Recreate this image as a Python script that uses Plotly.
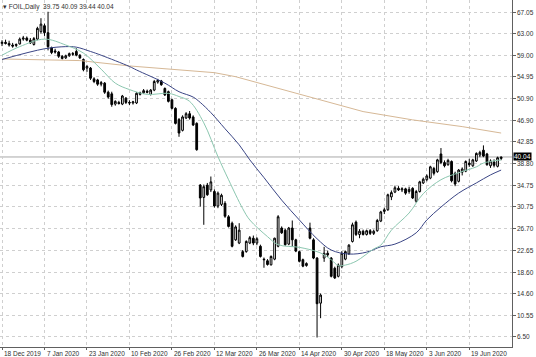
import plotly.graph_objects as go

# ---------------- data ----------------
opens = [61.2, 61.4, 61.2, 60.9, 60.8, 61.1, 62.0, 62.2, 61.8, 61.0, 62.0, 63.4, 64.5, 63.2, 60.4, 59.8, 59.6, 58.8, 58.5, 58.9,
         59.3, 59.7, 59.0, 58.2, 56.6, 56.6, 54.6, 54.4, 53.6, 53.8, 52.1, 51.8, 49.9, 50.2, 49.9, 51.0, 50.2, 50.1, 50.1, 51.7,
         52.0, 52.3, 51.7, 52.5, 54.0, 54.2, 52.8, 52.2, 50.7, 49.1, 47.0, 45.0, 47.3, 48.1, 47.5, 46.3, 34.8, 32.5, 34.8, 33.9,
         33.6, 30.9, 31.2, 31.4, 28.9, 27.7, 24.6, 24.0, 22.4, 22.4, 24.0, 24.9, 24.0, 23.4, 21.0, 20.7, 19.95, 21.0, 23.4, 26.8,
         26.4, 23.8, 26.8, 24.6, 22.4, 20.9, 19.8, 26.8, 24.6, 21.2, 12.8, 21.2, 22.1, 21.2, 19.3, 17.8, 19.6, 21.0, 22.0, 24.3,
         27.9, 25.6, 26.2, 25.6, 26.3, 25.8, 26.3, 28.1, 29.9, 30.2, 32.6, 33.5, 34.2, 33.9, 34.1, 33.6, 34.2, 31.8, 33.6, 35.2,
         35.8, 36.1, 37.9, 37.3, 40.6, 39.0, 38.6, 39.2, 37.0, 35.5, 37.2, 37.4, 38.9, 38.4, 39.3, 40.4, 41.3, 40.6, 38.4, 39.1,
         38.3, 39.75]
highs = [61.8, 61.9, 61.7, 61.3, 61.2, 62.3, 62.6, 62.5, 62.2, 62.4, 64.3, 65.9, 64.9, 67.1, 60.6, 60.2, 59.8, 59.0, 59.1, 59.5,
         59.6, 60.3, 59.2, 58.4, 57.2, 56.8, 54.9, 54.6, 54.2, 54.0, 52.4, 52.2, 50.6, 50.5, 51.6, 51.2, 50.6, 50.5, 52.1, 52.2,
         52.7, 52.6, 52.7, 54.4, 54.6, 54.4, 53.0, 52.4, 50.9, 49.3, 47.3, 47.8, 48.4, 48.6, 47.8, 46.5, 35.0, 34.9, 35.2, 36.4,
         34.0, 33.6, 33.2, 31.8, 29.2, 28.0, 27.3, 27.7, 22.7, 24.5, 25.3, 25.4, 25.1, 23.7, 21.3, 21.0, 21.7, 25.0, 29.2, 27.1,
         26.7, 27.0, 28.2, 24.8, 22.6, 21.1, 20.4, 27.8, 24.9, 21.4, 14.6, 23.3, 22.6, 21.4, 19.6, 20.2, 22.5, 22.6, 23.8, 27.8,
         28.2, 26.6, 26.5, 26.5, 26.6, 26.5, 28.5, 30.0, 30.6, 33.2, 33.8, 34.7, 34.6, 34.4, 34.3, 34.5, 34.4, 33.9, 35.6, 36.2,
         36.8, 38.4, 38.2, 39.7, 41.7, 39.4, 39.7, 39.4, 37.3, 37.8, 38.1, 39.4, 39.7, 39.7, 40.9, 41.2, 42.2, 40.8, 39.6, 39.6,
         40.1, 40.09]
lows = [60.7, 61.0, 60.6, 60.4, 60.5, 61.0, 61.7, 61.6, 61.1, 60.8, 61.8, 63.0, 62.6, 59.9, 59.2, 59.3, 58.5, 58.2, 58.3, 58.7,
        58.9, 58.8, 58.3, 56.0, 55.9, 54.4, 53.8, 53.3, 53.2, 51.8, 50.9, 49.4, 49.6, 49.8, 49.7, 49.9, 49.7, 49.8, 49.9, 51.5,
        51.8, 51.9, 51.5, 52.3, 53.7, 53.3, 51.4, 50.2, 48.9, 46.1, 43.8, 44.8, 47.1, 47.0, 45.8, 41.2, 30.8, 27.4, 32.8, 33.5,
        30.6, 30.5, 30.9, 28.7, 26.9, 23.2, 24.4, 23.8, 21.3, 22.2, 23.8, 23.6, 23.6, 21.3, 19.4, 19.8, 19.8, 20.8, 23.2, 25.7,
        23.5, 23.6, 23.3, 22.3, 20.4, 19.5, 19.6, 24.7, 21.0, 6.4, 10.0, 20.5, 21.4, 17.6, 17.3, 17.6, 19.3, 20.8, 21.8, 24.1,
        25.3, 24.9, 25.4, 25.4, 25.5, 25.5, 26.1, 27.9, 29.4, 30.0, 32.0, 33.3, 33.7, 33.5, 33.0, 33.2, 32.2, 31.5, 33.4, 35.0,
        35.5, 35.9, 36.6, 37.1, 38.7, 38.1, 38.4, 35.3, 34.6, 35.3, 36.6, 37.2, 38.2, 38.2, 39.1, 40.0, 40.0, 38.4, 38.0, 38.1,
        38.1, 39.44]
closes = [61.4, 61.2, 60.9, 60.7, 61.0, 62.0, 62.2, 61.8, 61.3, 62.1, 64.0, 64.8, 63.2, 60.6, 59.5, 59.6, 58.8, 58.4, 58.9, 59.3,
          59.2, 59.0, 58.5, 56.3, 56.9, 54.7, 54.1, 53.6, 53.9, 52.1, 51.2, 49.8, 50.4, 50.0, 51.4, 50.2, 50.1, 50.3, 51.9, 52.0,
          52.4, 52.1, 52.5, 54.1, 54.3, 53.5, 51.6, 50.4, 49.1, 46.3, 44.5, 47.5, 48.1, 47.3, 46.0, 41.4, 32.4, 34.5, 33.0, 35.4,
          30.9, 33.3, 32.9, 29.0, 27.1, 23.4, 27.0, 26.4, 21.5, 24.3, 25.0, 24.0, 24.8, 21.5, 20.9, 20.0, 21.5, 24.9, 28.9, 25.9,
          23.7, 26.8, 24.6, 22.5, 20.6, 19.7, 20.2, 24.9, 21.2, 12.7, 14.3, 22.1, 21.8, 17.8, 17.5, 19.9, 22.1, 22.4, 23.6, 27.4,
          25.6, 26.2, 25.6, 26.3, 25.8, 26.2, 28.2, 29.8, 30.2, 33.0, 33.4, 34.3, 33.9, 34.1, 33.3, 34.0, 32.4, 33.6, 35.4, 35.9,
          36.5, 38.2, 37.0, 39.5, 39.0, 38.4, 39.4, 35.6, 35.0, 37.6, 37.8, 39.2, 38.6, 39.5, 40.7, 40.9, 40.2, 38.6, 39.3, 38.5,
          39.9, 40.04]

# moving averages (bar index, value)
fast_ma_bars = [0, 5, 12, 18, 23, 28, 32, 36, 41, 47, 50, 53, 57, 61, 64, 68, 70, 75, 78, 84, 89, 91, 93, 95, 97, 100, 105,
                107, 110, 115, 119, 124, 129, 134, 136, 141]
fast_ma_vals = [59.0, 60.6, 62.0, 60.9, 59.4, 56.4, 53.8, 52.6, 51.7, 51.9, 51.3, 50.4, 46.4, 40.1, 35.8, 30.4, 28.3, 25.2,
                23.7, 23.2, 22.4, 21.8, 20.9, 19.8, 19.9, 20.6, 22.9, 23.6, 26.4, 29.6, 33.2, 35.8, 37.1, 38.2, 38.9, 39.5]
mid_ma_bars = [0, 12, 18, 21, 25, 28, 36, 38, 46, 50, 54, 56, 59, 63, 67, 70, 74, 79, 84, 89, 93, 98, 103, 107, 111, 117,
               120, 124, 129, 134, 138, 141]
mid_ma_vals = [58.2, 60.2, 60.6, 60.5, 59.7, 59.0, 56.9, 56.25, 53.8, 52.2, 51.2, 50.2, 48.3, 45.3, 42.3, 39.5, 36.2, 32.0,
               28.3, 24.8, 22.7, 21.95, 22.3, 23.3, 23.8, 25.9, 28.3, 30.7, 33.3, 35.2, 36.7, 37.6]
slow_ma_bars = [0, 22, 36, 50, 60, 66, 78, 90, 102, 116, 130, 141]
slow_ma_vals = [58.3, 58.0, 57.0, 56.25, 55.75, 55.0, 52.8, 50.65, 48.5, 46.95, 45.7, 44.5]

date_labels = ["18 Dec 2019", "7 Jan 2020", "23 Jan 2020", "10 Feb 2020", "26 Feb 2020", "12 Mar 2020",
               "26 Mar 2020", "14 Apr 2020", "30 Apr 2020", "18 May 2020", "3 Jun 2020", "19 Jun 2020"]
price_ticks = [67.05, 63.00, 59.00, 54.95, 50.90, 46.90, 42.85, 38.80, 34.75, 30.75, 26.70, 22.65, 18.60, 14.60, 10.55, 6.50]
symbol = "FOIL,Daily"

# ---------------- figure ----------------
FONT = "Liberation Sans, Arial, sans-serif"
TXT = "#303030"
bars = list(range(len(closes)))
label_bars = list(range(0, 12 * len(date_labels), 12))

fig = go.Figure()
fig.add_trace(go.Scatter(x=slow_ma_bars, y=slow_ma_vals, mode="lines",
                         line=dict(color="#d6b896", width=1), hoverinfo="skip"))
fig.add_trace(go.Scatter(x=mid_ma_bars, y=mid_ma_vals, mode="lines", line_shape="spline",
                         line=dict(color="#3a4585", width=1), hoverinfo="skip"))
fig.add_trace(go.Scatter(x=fast_ma_bars, y=fast_ma_vals, mode="lines", line_shape="spline",
                         line=dict(color="#8cc7b0", width=1), hoverinfo="skip"))
fig.add_trace(go.Candlestick(
    x=bars, open=opens, high=highs, low=lows, close=closes,
    increasing=dict(line=dict(color="#000000", width=1), fillcolor="#ffffff"),
    decreasing=dict(line=dict(color="#000000", width=1), fillcolor="#000000"),
    whiskerwidth=0, showlegend=False))

last = closes[-1]
fig.add_shape(type="line", xref="paper", x0=0, x1=1, y0=last, y1=last,
              line=dict(color="#a8a8a8", width=1), layer="below")

annotations = []
for b, lab in zip(label_bars, date_labels):
    annotations.append(dict(x=b, y=0, xref="x", yref="paper", text=lab, showarrow=False,
                            xanchor="left", yanchor="top", xshift=0, yshift=-1,
                            font=dict(family=FONT, size=6.5, color=TXT)))
for v in price_ticks:
    annotations.append(dict(x=1, y=v, xref="paper", yref="y", text="%.2f" % v, showarrow=False,
                            xanchor="left", yanchor="middle", xshift=3,
                            font=dict(family=FONT, size=6.5, color=TXT)))
annotations.append(dict(x=0, y=1, xref="paper", yref="paper",
                        text="▾ %s  %.2f %.2f %.2f %.2f" % (symbol, opens[-1], highs[-1], lows[-1], closes[-1]),
                        showarrow=False, xanchor="left", yanchor="top", xshift=1, yshift=-1,
                        font=dict(family=FONT, size=6.5, color=TXT)))
annotations.append(dict(x=1, y=last, xref="paper", yref="y", text="%.2f" % last, showarrow=False,
                        xanchor="left", yanchor="middle", xshift=1, bgcolor="#000000", borderpad=0,
                        font=dict(family=FONT, size=6.5, color="#ffffff")))

fig.update_layout(
    width=536, height=357,
    margin=dict(l=0, r=24, t=0, b=10, autoexpand=False),
    paper_bgcolor="#ffffff", plot_bgcolor="#ffffff",
    showlegend=False,
    annotations=annotations,
    xaxis=dict(type="linear", range=[-0.57, 144.07], rangeslider=dict(visible=False),
               tickvals=label_bars, showticklabels=False, ticks="outside", ticklen=2,
               tickcolor="#606060", showgrid=True, gridcolor="#cfcfcf", griddash="dot", gridwidth=1,
               showline=True, linecolor="#606060", linewidth=1, zeroline=False, fixedrange=True),
    yaxis=dict(side="right", range=[4.63, 69.29], tickvals=price_ticks, showticklabels=False,
               ticks="outside", ticklen=3, tickcolor="#606060",
               showgrid=True, gridcolor="#cfcfcf", griddash="dot", gridwidth=1,
               showline=True, linecolor="#606060", linewidth=1, zeroline=False, fixedrange=True),
)

fig.write_html("out.html", config={"displayModeBar": False},
               post_script="document.body.style.margin='0';document.body.style.padding='0';")
